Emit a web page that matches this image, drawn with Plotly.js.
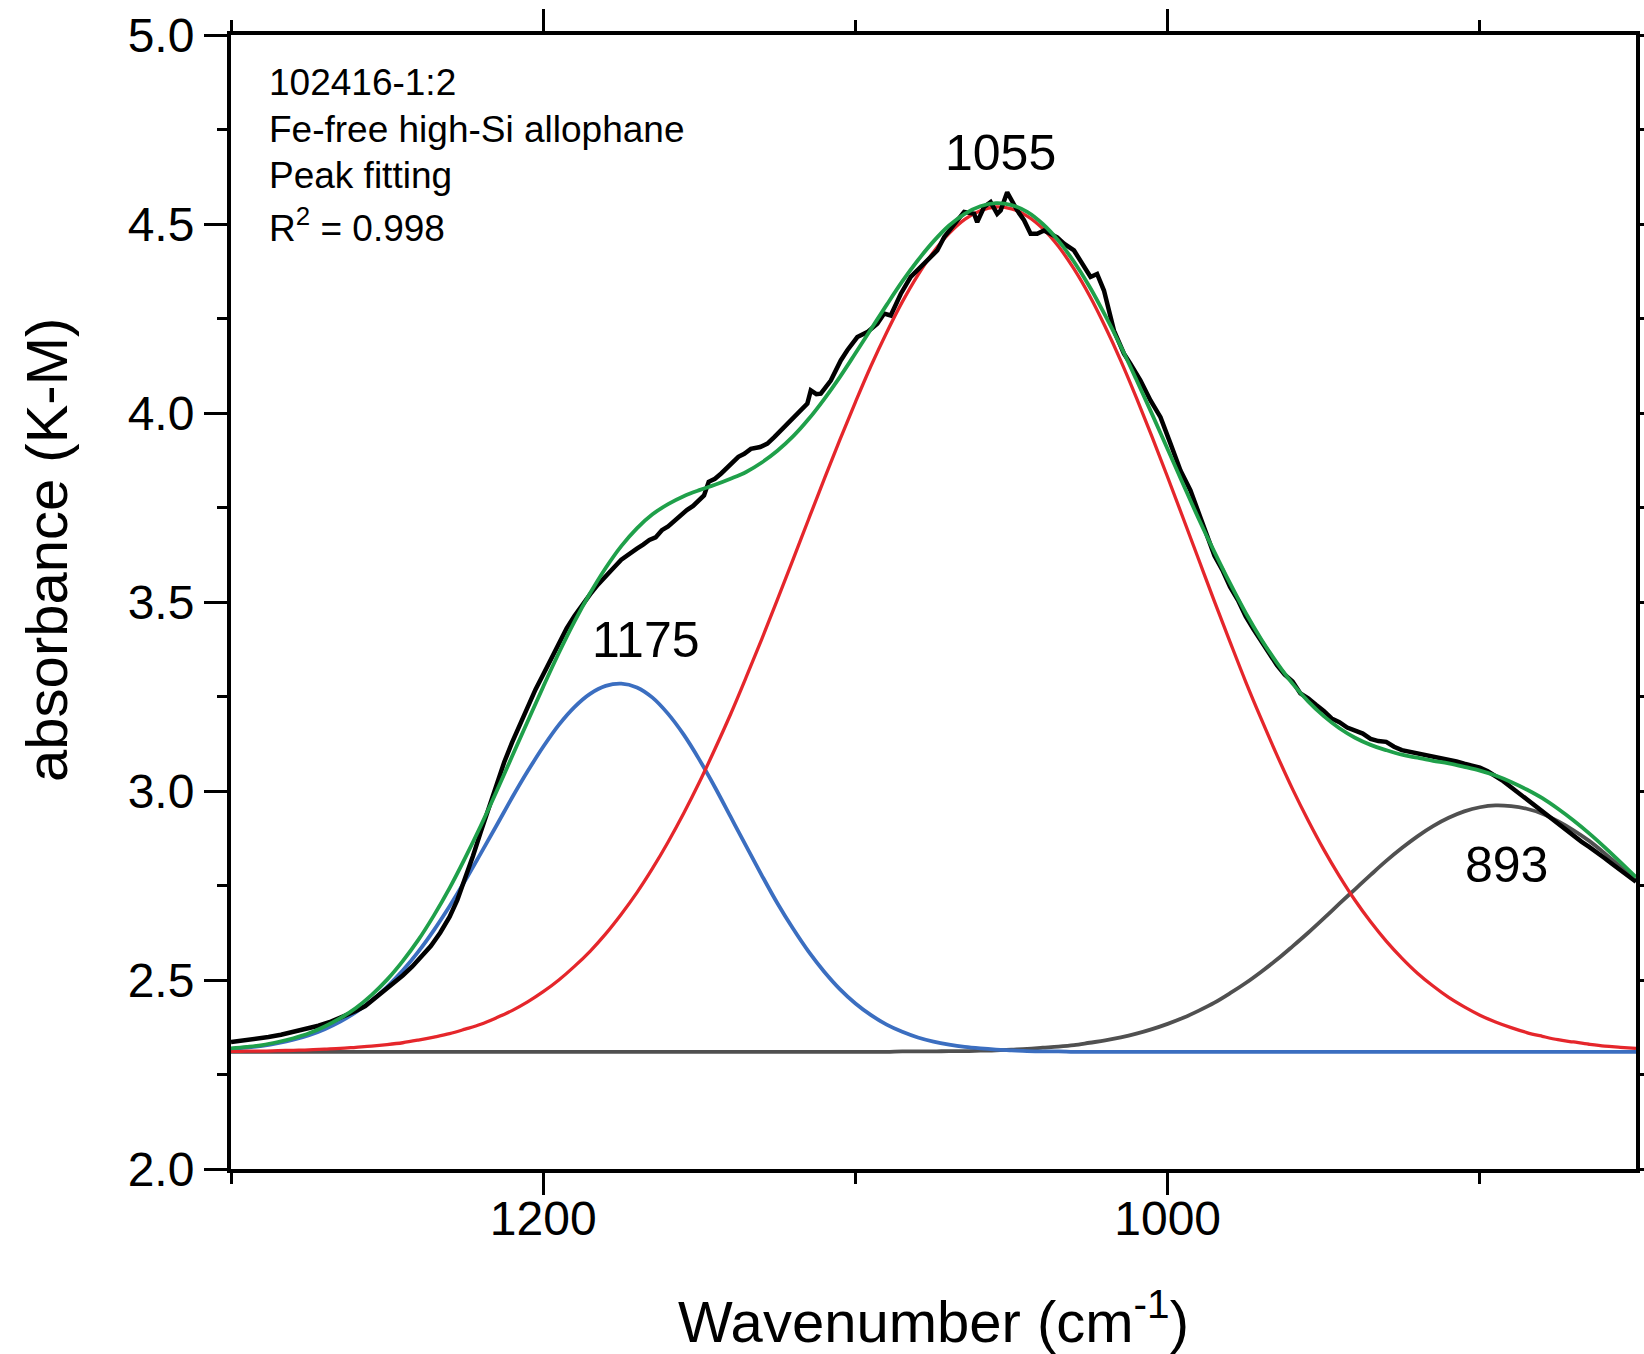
<!DOCTYPE html>
<html>
<head>
<meta charset="utf-8">
<script src="https://cdn.plot.ly/plotly-3.0.1.min.js"></script>
<style>
  html, body { margin: 0; padding: 0; background: #fff; overflow: hidden; }
  #chart { width: 1644px; height: 1354px; }
</style>
</head>
<body>
<div id="chart"></div>
<script>
// ---- Data ----
// Wavenumber grid of the fitted curves (cm-1)
const wnFit = [
  1300,1295,1290,1285,1280,1275,1270,1265,1260,1255,
  1250,1245,1240,1235,1230,1225,1220,1215,1210,1205,
  1200,1195,1190,1185,1180,1175,1170,1165,1160,1155,
  1150,1145,1140,1135,1130,1125,1120,1115,1110,1105,
  1100,1095,1090,1085,1080,1075,1070,1065,1060,1055,
  1050,1045,1040,1035,1030,1025,1020,1015,1010,1005,
  1000,995,990,985,980,975,970,965,960,955,
  950,945,940,935,930,925,920,915,910,905,
  900,895,890,885,880,875,870,865,860,855,
  850
];

// Peak 1175 (blue)
const peak1175 = [
  2.318,2.321,2.326,2.333,2.342,2.354,2.370,2.390,2.415,2.445,
  2.482,2.525,2.575,2.632,2.695,2.763,2.835,2.908,2.982,3.052,
  3.117,3.175,3.222,3.257,3.278,3.284,3.274,3.247,3.204,3.149,
  3.083,3.010,2.932,2.854,2.777,2.703,2.636,2.575,2.522,2.476,
  2.438,2.407,2.382,2.363,2.348,2.337,2.329,2.323,2.319,2.316,
  2.314,2.312,2.311,2.311,2.310,2.310,2.310,2.310,2.310,2.310,
  2.310,2.310,2.310,2.310,2.310,2.310,2.310,2.310,2.310,2.310,
  2.310,2.310,2.310,2.310,2.310,2.310,2.310,2.310,2.310,2.310,
  2.310,2.310,2.310,2.310,2.310,2.310,2.310,2.310,2.310,2.310,
  2.310
];

// Peak 1055 (red)
const peak1055 = [
  2.311,2.312,2.312,2.313,2.314,2.315,2.317,2.319,2.322,2.325,
  2.329,2.334,2.341,2.349,2.358,2.370,2.383,2.400,2.419,2.442,
  2.469,2.500,2.536,2.576,2.622,2.674,2.731,2.795,2.865,2.941,
  3.023,3.111,3.203,3.301,3.402,3.506,3.612,3.719,3.825,3.929,
  4.029,4.125,4.213,4.294,4.365,4.426,4.475,4.512,4.535,4.545,
  4.540,4.521,4.488,4.441,4.381,4.310,4.228,4.138,4.040,3.937,
  3.830,3.721,3.611,3.501,3.394,3.289,3.190,3.095,3.005,2.922,
  2.845,2.775,2.711,2.654,2.603,2.558,2.518,2.484,2.454,2.429,
  2.407,2.389,2.374,2.361,2.351,2.342,2.336,2.330,2.325,2.322,
  2.319
];

// Peak 893 (dark grey)
const peak893 = [
  2.310,2.310,2.310,2.310,2.310,2.310,2.310,2.310,2.310,2.310,
  2.310,2.310,2.310,2.310,2.310,2.310,2.310,2.310,2.310,2.310,
  2.310,2.310,2.310,2.310,2.310,2.310,2.310,2.310,2.310,2.310,
  2.310,2.310,2.310,2.310,2.310,2.310,2.310,2.310,2.310,2.310,
  2.310,2.310,2.310,2.311,2.311,2.311,2.312,2.312,2.313,2.314,
  2.316,2.318,2.321,2.324,2.328,2.334,2.340,2.348,2.358,2.370,
  2.384,2.400,2.419,2.440,2.465,2.492,2.522,2.554,2.589,2.625,
  2.663,2.702,2.740,2.778,2.815,2.849,2.880,2.907,2.929,2.946,
  2.957,2.962,2.960,2.953,2.940,2.920,2.896,2.868,2.835,2.800,
  2.763
];

// Cumulative fit (green)
const fitSum = [
  2.319,2.323,2.328,2.336,2.346,2.359,2.377,2.399,2.426,2.460,
  2.501,2.550,2.606,2.671,2.743,2.823,2.908,2.998,3.091,3.184,
  3.276,3.365,3.448,3.523,3.590,3.648,3.695,3.732,3.759,3.780,
  3.796,3.810,3.826,3.844,3.869,3.900,3.938,3.984,4.037,4.095,
  4.158,4.222,4.286,4.348,4.404,4.454,4.496,4.527,4.547,4.555,
  4.550,4.532,4.500,4.456,4.400,4.334,4.258,4.176,4.088,3.997,
  3.904,3.811,3.719,3.632,3.549,3.471,3.401,3.339,3.284,3.237,
  3.198,3.166,3.141,3.122,3.108,3.096,3.088,3.080,3.073,3.064,
  3.054,3.041,3.024,3.004,2.981,2.953,2.922,2.888,2.851,2.812,
  2.772
];

// Measured spectrum (black)
const wnMeas = [
  1300,1296,1292,1288,1284,1280,1276,1272,1268,1264,
  1260,1257,1254,1251,1248,1245,1242,1239,1236,1233,
  1230,1227.5,1225,1222.5,1220,1217.5,1215,1212.5,1210,1207.5,
  1205,1202.5,1200,1197.5,1195,1192.5,1190,1187.5,1185,1182.5,
  1180,1177.5,1175,1172.5,1170,1168,1166,1164,1162,1160,
  1158,1156,1154,1152,1150,1148.5,1147,1145,1143,1140,
  1137.5,1135.6,1133.5,1130.5,1128.2,1126,1123.9,1121.8,1118.6,1115.4,
  1114.3,1112.5,1111.1,1109.5,1107.9,1104.7,1102.6,1099.4,1096.2,1093,
  1090.8,1088.7,1085.5,1082.3,1078,1073.8,1071.6,1068.4,1065.2,1062,
  1061,1058.8,1056.7,1054.6,1053.5,1051.4,1048.2,1046,1043.9,1041.8,
  1039.6,1035.4,1033.2,1030,1026.8,1024.7,1022.6,1020.4,1017.2,1014,
  1011.9,1008.7,1005.5,1002.3,999.1,995.9,992.7,989.5,987.4,985,
  982.5,980,977.5,975,972.5,970,967.5,965,962.5,960,
  957.5,955,952.5,950,947.5,945,942.5,940,937.5,935,
  932.5,930,927.5,925,922.5,920,917.5,915,912.5,910,
  907.5,905,902.5,900,897.5,895,892.5,890,887.5,885,
  882.5,880,877.5,875,872.5,870,867.5,865,862.5,860,
  857.5,855,852.5,850
];
const absMeas = [
  2.336,2.340,2.344,2.349,2.355,2.362,2.370,2.379,2.390,2.403,
  2.418,2.431,2.451,2.471,2.490,2.512,2.535,2.561,2.590,2.625,
  2.667,2.712,2.766,2.828,2.892,2.956,3.018,3.076,3.128,3.176,
  3.222,3.268,3.308,3.349,3.390,3.430,3.463,3.494,3.520,3.546,
  3.566,3.590,3.612,3.628,3.641,3.652,3.664,3.671,3.690,3.700,
  3.714,3.731,3.743,3.754,3.772,3.782,3.818,3.826,3.840,3.866,
  3.884,3.892,3.905,3.910,3.919,3.936,3.954,3.972,3.998,4.025,
  4.060,4.050,4.051,4.068,4.086,4.139,4.166,4.201,4.214,4.236,
  4.263,4.258,4.315,4.360,4.395,4.430,4.465,4.501,4.532,4.527,
  4.505,4.545,4.558,4.527,4.536,4.584,4.536,4.510,4.474,4.474,
  4.483,4.465,4.448,4.430,4.386,4.360,4.368,4.324,4.218,4.157,
  4.130,4.086,4.033,3.989,3.919,3.848,3.795,3.725,3.681,3.622,
  3.585,3.540,3.505,3.462,3.428,3.396,3.366,3.333,3.308,3.290,
  3.258,3.245,3.228,3.212,3.192,3.182,3.168,3.160,3.152,3.138,
  3.132,3.130,3.117,3.108,3.104,3.100,3.094,3.090,3.086,3.082,
  3.078,3.072,3.066,3.062,3.052,3.040,3.026,3.010,2.994,2.978,
  2.962,2.945,2.928,2.912,2.896,2.880,2.866,2.852,2.838,2.822,
  2.806,2.790,2.775,2.760
];

// Axis ticks
const xTickVals = [1200, 1000];
const xTickText = ['1200', '1000'];
const xMinorVals = [1300, 1100, 900];
const yTickVals = [2.0, 2.5, 3.0, 3.5, 4.0, 4.5, 5.0];
const yTickText = ['2.0', '2.5', '3.0', '3.5', '4.0', '4.5', '5.0'];
const yMinorVals = [2.25, 2.75, 3.25, 3.75, 4.25, 4.75];

// Text labels
const infoLines = ['102416-1:2', 'Fe-free high-Si allophane', 'Peak fitting', 'R<sup>2</sup> = 0.998'];
const peakNames = ['1055', '1175', '893'];
const peakLabelX = [1053.5, 1167.1, 891.6];
const peakLabelY = [4.689, 3.399, 2.803];

// ---- Chart ----
const FONT = 'Liberation Sans, Arial, Helvetica, sans-serif';

const traces = [
  { x: wnFit, y: peak893, mode: 'lines', line: { color: '#505050', width: 3.8, shape: 'spline' }, hoverinfo: 'skip' },
  { x: wnFit, y: peak1175, mode: 'lines', line: { color: '#3B6EC0', width: 3.8, shape: 'spline' }, hoverinfo: 'skip' },
  { x: wnFit, y: peak1055, mode: 'lines', line: { color: '#E5262B', width: 3.3, shape: 'spline' }, hoverinfo: 'skip' },
  { x: wnMeas, y: absMeas, mode: 'lines', line: { color: '#000000', width: 4.5 }, hoverinfo: 'skip' },
  { x: wnFit, y: fitSum, mode: 'lines', line: { color: '#1FA04A', width: 3.8, shape: 'spline' }, hoverinfo: 'skip' }
];

const annotations = [];
const infoY = [0.9577, 0.9171, 0.8757, 0.8316];
infoLines.forEach((t, i) => {
  annotations.push({
    text: t, xref: 'paper', yref: 'paper', x: 0.0258, y: infoY[i],
    xanchor: 'left', yanchor: 'middle', showarrow: false,
    font: { family: FONT, size: 37, color: '#000' }
  });
});
peakNames.forEach((t, i) => {
  annotations.push({
    text: t, xref: 'x', yref: 'y', x: peakLabelX[i], y: peakLabelY[i],
    xanchor: 'center', yanchor: 'middle', showarrow: false,
    font: { family: FONT, size: 50, color: '#000' }
  });
});
annotations.push({
  text: 'absorbance (K-M)', xref: 'paper', yref: 'paper', x: -0.1310, y: 0.5459,
  xanchor: 'center', yanchor: 'middle', showarrow: false, textangle: -90,
  font: { family: FONT, size: 58, color: '#000' }
});

const layout = {
  width: 1644, height: 1354,
  margin: { l: 231, r: 8, t: 35, b: 185 },
  paper_bgcolor: '#ffffff', plot_bgcolor: '#ffffff',
  showlegend: false,
  font: { family: FONT, color: '#000' },
  xaxis: {
    range: [1300, 850],
    tickmode: 'array', tickvals: xTickVals, ticktext: xTickText,
    ticks: 'outside', ticklen: 22, tickwidth: 3, tickcolor: '#000',
    ticklabelstandoff: -18,
    tickfont: { family: FONT, size: 48, color: '#000' },
    showline: true, linewidth: 4, linecolor: '#000', mirror: 'ticks',
    showgrid: false, zeroline: false,
    minor: { tickmode: 'array', tickvals: xMinorVals, ticks: 'outside', ticklen: 11, tickwidth: 3, tickcolor: '#000', showgrid: false },
    title: { text: 'Wavenumber (cm<sup>-1</sup>)', font: { family: FONT, size: 58, color: '#000' }, standoff: 75 }
  },
  yaxis: {
    range: [2, 5],
    tickmode: 'array', tickvals: yTickVals, ticktext: yTickText,
    ticks: 'outside', ticklen: 23, tickwidth: 3, tickcolor: '#000',
    ticklabelstandoff: 0,
    tickfont: { family: FONT, size: 48, color: '#000' },
    showline: true, linewidth: 4, linecolor: '#000', mirror: 'ticks',
    showgrid: false, zeroline: false,
    minor: { tickmode: 'array', tickvals: yMinorVals, ticks: 'outside', ticklen: 10, tickwidth: 3, tickcolor: '#000', showgrid: false }
  },
  annotations: annotations
};

Plotly.newPlot('chart', traces, layout, { staticPlot: true, displayModeBar: false });
</script>
</body>
</html>
